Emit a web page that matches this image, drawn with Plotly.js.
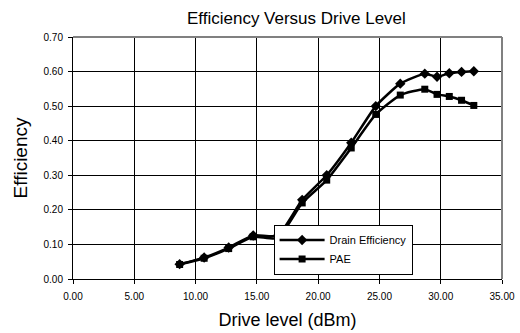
<!DOCTYPE html>
<html>
<head>
<meta charset="utf-8">
<script src="https://cdn.plot.ly/plotly-3.0.1.min.js"></script>
<style>html,body{margin:0;padding:0;background:#fff;}#chart{width:520px;height:333px;}</style>
</head>
<body>
<div id="chart"></div>
<script>
var driveLevel = [8.7, 10.7, 12.7, 14.7, 16.7, 18.7, 20.7, 22.7, 24.7, 26.7, 28.7, 29.7, 30.7, 31.7, 32.7];
var drainEff   = [0.043, 0.062, 0.091, 0.126, 0.125, 0.229, 0.300, 0.394, 0.500, 0.565, 0.594, 0.585, 0.595, 0.599, 0.601];
var pae        = [0.042, 0.060, 0.088, 0.122, 0.118, 0.220, 0.286, 0.379, 0.476, 0.532, 0.549, 0.534, 0.528, 0.517, 0.502];
var seriesNames = ["Drain Efficiency", "PAE"];

var font = "Liberation Sans, Arial, sans-serif";
var traces = [
  {x: driveLevel, y: drainEff, name: seriesNames[0], legendgroup: "a", type: "scatter", mode: "lines+markers",
   line: {color: "#000", width: 2.5, shape: "spline", smoothing: 0.5},
   marker: {symbol: "diamond", size: 8, color: "#000"}},
  {x: driveLevel, y: pae, name: seriesNames[1], legendgroup: "b", type: "scatter", mode: "lines+markers",
   line: {color: "#000", width: 2.5, shape: "spline", smoothing: 0.5},
   marker: {symbol: "square", size: 7, color: "#000"}}
];

var layout = {
  width: 520, height: 333,
  margin: {l: 73, r: 18, t: 37, b: 54},
  paper_bgcolor: "#fff", plot_bgcolor: "#fff",
  font: {family: font, color: "#000"},
  title: {text: "Efficiency Versus Drive Level", font: {size: 17, family: font}, x: 0.570, xanchor: "center", y: 0.946, yanchor: "middle"},
  xaxis: {range: [0, 35], dtick: 5, tick0: 0, tickformat: ".2f", showgrid: true, gridcolor: "#000", gridwidth: 1,
          showline: true, linecolor: "#000", linewidth: 1, ticks: "outside", ticklen: 4, tickcolor: "#000",
          ticklabelstandoff: 4,
          tickfont: {size: 10, family: font}, zeroline: false, fixedrange: true,
          title: {text: "Drive level (dBm)", font: {size: 18, family: font}, standoff: 12}},
  yaxis: {range: [0, 0.7], dtick: 0.1, tick0: 0, tickformat: ".2f", showgrid: true, gridcolor: "#000", gridwidth: 1,
          showline: true, linecolor: "#000", linewidth: 1, ticks: "outside", ticklen: 4, tickcolor: "#000",
          ticklabelstandoff: 3,
          tickfont: {size: 10, family: font}, zeroline: false, fixedrange: true,
          title: {text: "Efficiency", font: {size: 19, family: font}, standoff: 10}},
  showlegend: true,
  legend: {x: 0.4676, y: 0.225, xanchor: "left", yanchor: "top", bgcolor: "#fff", bordercolor: "#000", borderwidth: 1,
           font: {size: 11, family: font}, itemwidth: 45, tracegroupgap: 5, traceorder: "normal"},
  shapes: [
    {type: "line", xref: "paper", yref: "paper", x0: 0, x1: 1, y0: 1, y1: 1, line: {color: "#808080", width: 2}, layer: "above"},
    {type: "line", xref: "paper", yref: "paper", x0: 1, x1: 1, y0: 0, y1: 1, line: {color: "#808080", width: 2}, layer: "above"}
  ]
};

Plotly.newPlot("chart", traces, layout, {displayModeBar: false, staticPlot: true});
</script>
</body>
</html>
